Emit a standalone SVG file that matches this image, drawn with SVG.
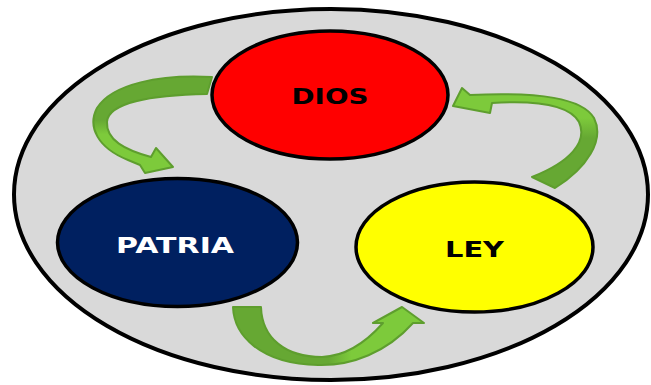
<svg xmlns="http://www.w3.org/2000/svg" width="651" height="385" viewBox="0 0 651 385">
<style>
.node{stroke:#000;stroke-width:3.5}
.lbl{font-family:"DejaVu Sans",Verdana,sans-serif;font-weight:bold;font-size:20.5px;text-anchor:middle}
.arrow{stroke:#5e9e2e;stroke-width:2;stroke-linejoin:round}
</style>
<defs>
<linearGradient id="g1" x1="0" y1="0" x2="0" y2="1">
<stop offset="0" stop-color="#66a833"/><stop offset="0.45" stop-color="#66a833"/><stop offset="0.6" stop-color="#7dca3b"/><stop offset="1" stop-color="#7dca3b"/>
</linearGradient>
<linearGradient id="g2" x1="0" y1="0" x2="0" y2="1">
<stop offset="0" stop-color="#7dca3b"/><stop offset="0.3" stop-color="#7dca3b"/><stop offset="0.5" stop-color="#66a833"/><stop offset="1" stop-color="#66a833"/>
</linearGradient>
<linearGradient id="g3" x1="0" y1="0" x2="1" y2="0">
<stop offset="0" stop-color="#66a833"/><stop offset="0.5" stop-color="#66a833"/><stop offset="0.62" stop-color="#7dca3b"/><stop offset="1" stop-color="#7dca3b"/>
</linearGradient>
</defs>
<g id="background">
<ellipse cx="331" cy="194.5" rx="317" ry="185.5" fill="#d9d9d9" stroke="#000" stroke-width="4"/>
</g>
<g id="connectors">
<path class="arrow" fill="url(#g1)" d="M212,77 C160,74 112,84 97,108 C87,127 98,148 128,160 L140,165 L145,173 L173,167 L156,148 L151,157 C125,150 106,140 107,122 C108,103 150,95 207,94 Z"/>
<path class="arrow" fill="url(#g2)" d="M555,188 C587,168 605,140 594,118 C582,98 540,92 470,95 L462,88 L453,106 L490,113 L492,103 C540,100 570,106 579,122 C588,142 570,162 532,177 Z"/>
<path class="arrow" fill="url(#g3)" d="M233,307 C234,335 260,364 318,365 C352,366 387,352 413,323 L424,323 L402,307 L373,323 L383,323 C368,340 347,356 322,357 C285,357 262,338 261,307 Z"/>
</g>
<g id="dios">
<ellipse class="node" cx="330" cy="95" rx="118" ry="64" fill="#ff0000"/>
<text class="lbl" x="330" y="104" fill="#000" textLength="77" lengthAdjust="spacingAndGlyphs">DIOS</text>
</g>
<g id="patria">
<ellipse class="node" cx="177.5" cy="242.5" rx="120" ry="64" fill="#002060"/>
<text class="lbl" x="175" y="253" fill="#fff" textLength="118" lengthAdjust="spacingAndGlyphs">PATRIA</text>
</g>
<g id="ley">
<ellipse class="node" cx="474.5" cy="247" rx="118.5" ry="65" fill="#ffff00"/>
<text class="lbl" x="474.5" y="257" fill="#000" textLength="59" lengthAdjust="spacingAndGlyphs">LEY</text>
</g>
</svg>
